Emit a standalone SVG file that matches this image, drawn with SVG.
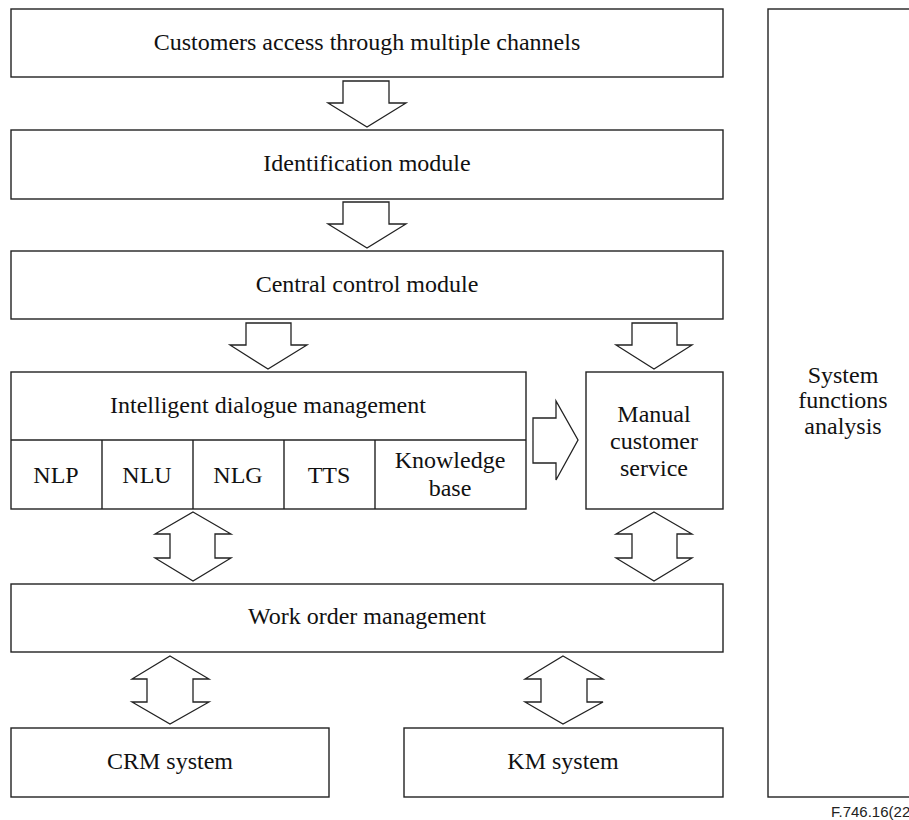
<svg xmlns="http://www.w3.org/2000/svg" width="909" height="820" viewBox="0 0 909 820">
  <style>
    .box { fill: #fff; stroke: #222; stroke-width: 1.4; }
    .arrow { fill: #fff; stroke: #222; stroke-width: 1.3; stroke-linejoin: miter; }
    .line { stroke: #222; stroke-width: 1.4; fill: none; }
    .t { font-family: "Liberation Serif", "Times New Roman", serif; font-size: 24px; fill: #111; text-anchor: middle; }
    .ref { font-family: "Liberation Sans", Arial, sans-serif; font-size: 15px; fill: #222; }
  </style>
  <rect width="909" height="820" fill="#fff"/>

  <g id="channels">
    <rect class="box" x="11" y="9" width="712" height="68"/>
    <text class="t" x="367" y="50">Customers access through multiple channels</text>
  </g>
  <g id="identification">
    <rect class="box" x="11" y="130" width="712" height="69"/>
    <text class="t" x="367" y="171">Identification module</text>
  </g>
  <g id="central-control">
    <rect class="box" x="11" y="251" width="712" height="68"/>
    <text class="t" x="367" y="292">Central control module</text>
  </g>
  <g id="dialogue">
    <rect class="box" x="11" y="372" width="515" height="137"/>
    <line class="line" x1="11" y1="440" x2="526" y2="440"/>
    <line class="line" x1="102" y1="440" x2="102" y2="509"/>
    <line class="line" x1="193" y1="440" x2="193" y2="509"/>
    <line class="line" x1="284" y1="440" x2="284" y2="509"/>
    <line class="line" x1="375" y1="440" x2="375" y2="509"/>
    <text class="t" x="268" y="413">Intelligent dialogue management</text>
    <text class="t" x="56" y="483">NLP</text>
    <text class="t" x="147" y="483">NLU</text>
    <text class="t" x="238" y="483">NLG</text>
    <text class="t" x="329" y="483">TTS</text>
    <text class="t" x="450" y="468">Knowledge</text>
    <text class="t" x="450" y="496">base</text>
  </g>
  <g id="manual-service">
    <rect class="box" x="586" y="372" width="137" height="137"/>
    <text class="t" x="654" y="422">Manual</text>
    <text class="t" x="654" y="449">customer</text>
    <text class="t" x="654" y="476">service</text>
  </g>
  <g id="work-order">
    <rect class="box" x="11" y="584" width="712" height="68"/>
    <text class="t" x="367" y="624">Work order management</text>
  </g>
  <g id="crm">
    <rect class="box" x="11" y="728" width="318" height="69"/>
    <text class="t" x="170" y="769">CRM system</text>
  </g>
  <g id="km">
    <rect class="box" x="404" y="728" width="319" height="69"/>
    <text class="t" x="563" y="769">KM system</text>
  </g>
  <g id="system-analysis">
    <rect class="box" x="768" y="9" width="150" height="788"/>
    <text class="t" x="843" y="383">System</text>
    <text class="t" x="843" y="408">functions</text>
    <text class="t" x="843" y="434">analysis</text>
  </g>

  <g id="connectors">
    <!-- single block arrows pointing down -->
    <polygon class="arrow" points="343,81 389,81 389,103 406,103 367,127 328,103 343,103"/>
    <polygon class="arrow" points="343,202 389,202 389,224 406,224 367,248 328,224 343,224"/>
    <polygon class="arrow" points="246,323 291,323 291,345 307,345 268,369 230,345 246,345"/>
    <polygon class="arrow" points="632,323 677,323 677,345 692,345 654,369 616,345 632,345"/>
    <!-- block arrow pointing right -->
    <polygon class="arrow" points="533,418 556,418 556,401 578,440 556,480 556,463 533,463"/>
    <!-- double-headed block arrows -->
    <polygon class="arrow" points="193,512 231,534 215,534 215,558 231,558 193,581 155,558 170,558 170,534 155,534"/>
    <polygon class="arrow" points="654,512 692,534 677,534 677,558 692,558 654,581 616,558 632,558 632,534 616,534"/>
    <polygon class="arrow" points="170,656 209,679 193,679 193,702 209,702 170,724 132,702 147,702 147,679 132,679"/>
    <polygon class="arrow" points="563,656 603,679 587,679 587,702 603,702 563,724 525,702 541,702 541,679 525,679"/>
  </g>

  <text class="ref" x="831" y="817">F.746.16(22)</text>
</svg>
